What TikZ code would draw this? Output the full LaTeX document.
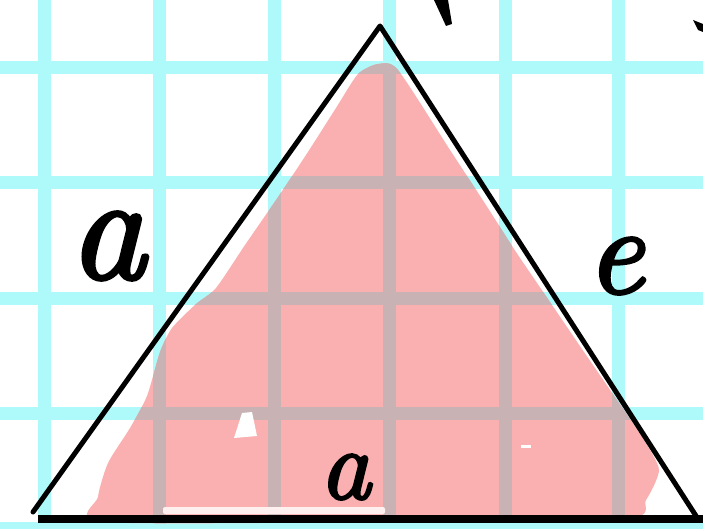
\documentclass[tikz,border=0pt]{standalone}
\usepackage{fontspec}
\newfontface\handlabel{lmroman10-italic.otf}[FakeBold=2.5]
\begin{document}
\begin{tikzpicture}[x=1pt,y=-1pt]
\definecolor{gridcyan}{RGB}{174,250,250}
\definecolor{pinkfill}{RGB}{250,176,176}
\definecolor{gridgrey}{RGB}{200,178,180}
\definecolor{stripwhite}{RGB}{255,240,240}
\tikzset{
  gridline/.style={line width=13pt},
  edge/.style={line width=5pt, line join=round, line cap=round},
  baseline edge/.style={line width=8pt},
  lbl/.style={inner sep=0pt, text=black},
  speck/.style={fill=white}
}
\useasboundingbox (0,0) rectangle (703,529);
\fill[white] (0,0) rectangle (703,529);
% grid
\foreach \x in {44,159,274,389,505,618} \draw[gridline, gridcyan] (\x,0) -- (\x,529);
\foreach \y in {68,183,298,413,528} \draw[gridline, gridcyan] (0,\y) -- (703,\y);
% pink region
\def\pinkpath{plot[smooth cycle, tension=0.4] coordinates {
  (378,64) (398,70) (450,150) (484,202) (516,252) (550,302) (584,352)
  (617,400) (644,440) (659,470) (646,500) (626,519) (380,522) (102,522)
  (98,497) (108,463) (130,428) (147,396) (160,352) (172,328) (196,304)
  (216,288) (245,245) (276,200) (306,155) (336,108) (358,74)}}
\fill[pinkfill] \pinkpath;
\begin{scope}
  \clip \pinkpath;
  \foreach \x in {44,159,274,389,505,618} \draw[gridline, gridgrey] (\x,0) -- (\x,529);
  \foreach \y in {68,183,298,413} \draw[gridline, gridgrey] (0,\y) -- (703,\y);
\end{scope}
% white strip and specks
\fill[stripwhite, rounded corners=2pt] (163,507) rectangle (385,514);
\fill[speck] (242,413) -- (252,412) -- (257,436) -- (234,438) -- cycle;
\fill[speck] (521,445) rectangle (531,448);
% triangle
\coordinate (A) at (380,26);
\coordinate (B) at (33,512);
\coordinate (C) at (698,519);
\coordinate (BL) at (38,519);
\coordinate (BR) at (703,519);
\draw[edge] (B) -- (A) -- (C);
\draw[baseline edge] (BL) -- (BR);
% marks at top
\fill (434,0) -- (448,0) -- (452,24) -- (446,26) -- cycle;
\fill (693,20) -- (703,24) -- (703,32) -- (698,30) -- cycle;
% labels
\node[lbl, font=\fontsize{150}{150}\selectfont\handlabel] (la) at (107,246) {a};
\node[lbl, font=\fontsize{100}{100}\selectfont\handlabel] (lb) at (345,477) {a};
\node[lbl, font=\fontsize{125}{125}\selectfont\handlabel] (lc) at (615,266) {e};
\end{tikzpicture}
\end{document}
